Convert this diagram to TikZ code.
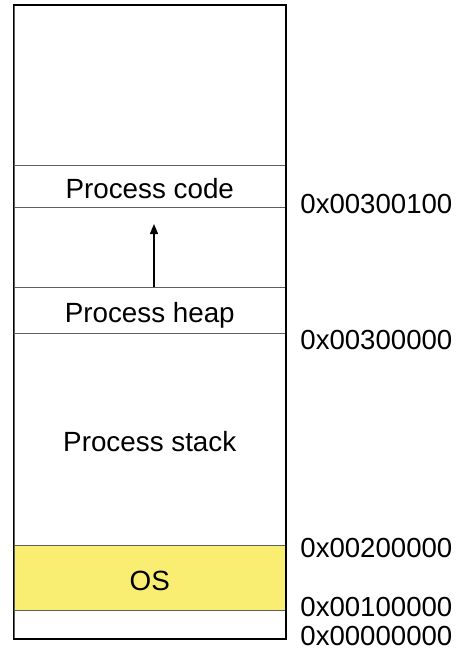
\documentclass[tikz,border=0pt]{standalone}
\usepackage{fontspec}
\setmainfont{Liberation Sans}
\usetikzlibrary{arrows.meta}
\definecolor{osyellow}{RGB}{249,237,114}
\definecolor{bandline}{RGB}{95,95,95}
\tikzset{
  >={Triangle[length=5pt,width=4pt]},
  band/.style={draw=bandline, line width=0.5pt, rectangle, inner sep=0pt,
               anchor=north west, minimum width=135.75pt, text height=13pt, text depth=1pt,
               font=\fontsize{13.9}{16}\selectfont},
  addr/.style={anchor=west, inner sep=0pt, font=\fontsize{13.8}{16}\selectfont},
}

\begin{document}
\begin{tikzpicture}[x=0.5pt, y=-0.5pt]
    \useasboundingbox (0,0) rectangle (463,653);
    % memory bands, top to bottom
    \node[band, minimum height=80pt]        (free)  at (13.5,5)   {};
    \node[band, minimum height=21pt]        (code)  at (13.5,165) {Process code};
    \node[band, minimum height=40pt]        (gap)   at (13.5,207) {};
    \node[band, minimum height=23pt]        (heap)  at (13.5,287) {Process heap};
    \node[band, minimum height=106pt]       (stack) at (13.5,333) {Process stack};
    \node[band, minimum height=32.5pt, fill=osyellow]
                                            (os)    at (13.5,545) {OS};
    \node[band, minimum height=12.5pt]      (low)   at (13.5,610) {};
    \draw[line width=0.6pt] (free.north west) rectangle (low.south east);
    % heap grows upward
    \coordinate (grow) at (154,224);
    \draw[->, line width=0.7pt] (heap.north -| grow) -- (grow);
    % addresses
    \node[addr] (a300100) at (300,204) {0x00300100};
    \node[addr] (a300000) at (300,340) {0x00300000};
    \node[addr] (a200000) at (300,548) {0x00200000};
    \node[addr] (a100000) at (300,607) {0x00100000};
    \node[addr] (a000000) at (300,636) {0x00000000};
  \end{tikzpicture}
\end{document}
